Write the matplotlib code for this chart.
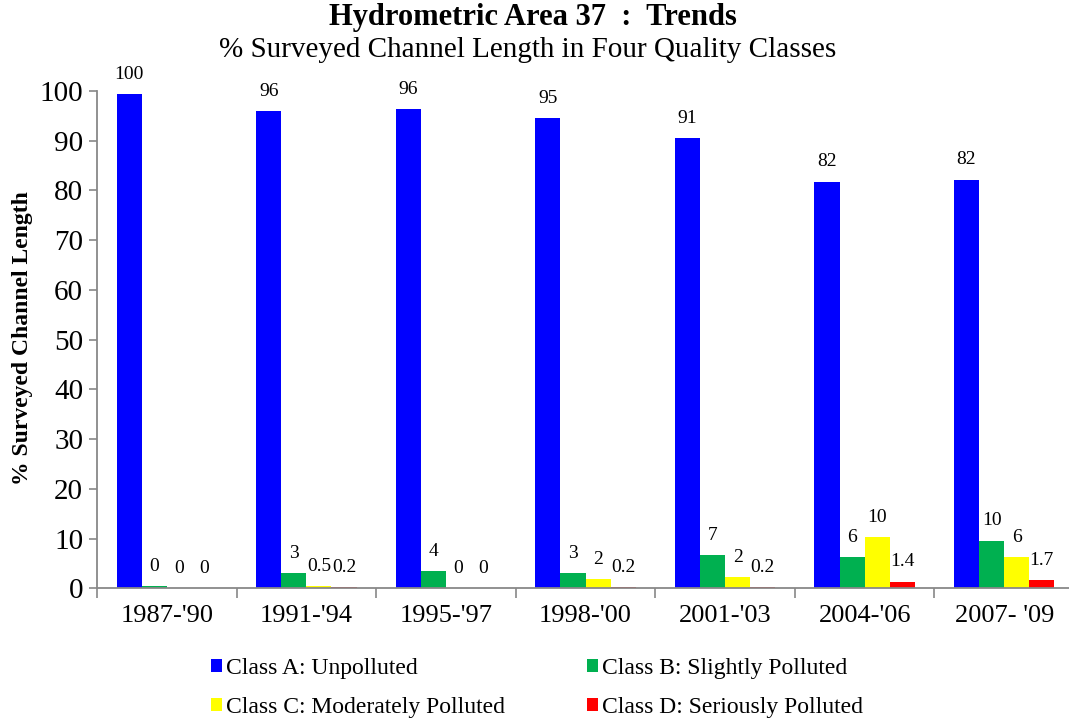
import matplotlib
matplotlib.use("Agg")
import matplotlib.pyplot as plt
import numpy as np

periods = ["1987-'90", "1991-'94", "1995-'97", "1998-'00", "2001-'03", "2004-'06", "2007- '09"]
class_names = ["Class A: Unpolluted", "Class B: Slightly Polluted",
               "Class C: Moderately Polluted", "Class D: Seriously Polluted"]
class_a = [99.4, 96.0, 96.4, 94.6, 90.6, 81.8, 82.2]
class_b = [0.4, 3.0, 3.5, 3.1, 6.7, 6.3, 9.6]
class_c = [0.0, 0.45, 0.0, 1.8, 2.3, 10.3, 6.3]
class_d = [0.0, 0.2, 0.0, 0.2, 0.2, 1.35, 1.7]
labels_a = ["100", "96", "96", "95", "91", "82", "82"]
labels_b = ["0", "3", "4", "3", "7", "6", "10"]
labels_c = ["0", "0.5", "0", "2", "2", "10", "6"]
labels_d = ["0", "0.2", "0", "0.2", "0.2", "1.4", "1.7"]
colors = ["#0000FF", "#00B050", "#FFFF00", "#FF0000"]

plt.rcParams['font.family'] = ['Liberation Serif', 'DejaVu Serif']

fig = plt.figure(figsize=(10.69, 7.24), dpi=100)
W, H = 1069, 724
left, right, top, bottom = 97, 1074, 91, 588.3
ax = fig.add_axes([left / W, 1 - bottom / H, (right - left) / W, (bottom - top) / H])

series = [class_a, class_b, class_c, class_d]
labels = [labels_a, labels_b, labels_c, labels_d]
x = np.arange(len(periods))
bw = 0.18
handles = []
for i, (vals, labs, col) in enumerate(zip(series, labels, colors)):
    pos = x + (i - 1.5) * bw
    bars = ax.bar(pos, vals, width=bw, color=col, label=class_names[i], linewidth=0)
    handles.append(bars)
    for p, v, l in zip(pos, vals, labs):
        ax.annotate(l, (p, v), xytext=(0, 8), textcoords="offset points",
                    ha="center", va="bottom", fontsize=14)

ax.set_xlim(-0.5, len(periods) - 0.5)
ax.set_ylim(0, 100)
ax.set_yticks(np.arange(0, 101, 10))
ax.tick_params(axis='y', labelsize=21, color="#888888", length=6, width=1.2, pad=4)
ax.set_xticks(x)
ax.set_xticklabels(periods, fontsize=19)
ax.set_xticks(np.arange(-0.5, len(periods), 1), minor=True)
ax.tick_params(axis='x', which='major', length=0, pad=12)
ax.tick_params(axis='x', which='minor', length=7, color="#888888", width=1.2)
for s in ["top", "right"]:
    ax.spines[s].set_visible(False)
for s in ["left", "bottom"]:
    ax.spines[s].set_color("#888888")
    ax.spines[s].set_linewidth(1.3)

ax.set_ylabel("% Surveyed Channel Length", fontsize=17, fontweight="bold")
ax.yaxis.set_label_coords((33 - left) / (right - left), (bottom - 338) / (bottom - top))

fig.text(533 / W, 1 - 17 / H, "Hydrometric Area 37  :  Trends", ha="center", va="center",
         fontsize=22, fontweight="bold")
fig.text(528 / W, 1 - 50 / H, "% Surveyed Channel Length in Four Quality Classes",
         ha="center", va="center", fontsize=21)

order = [0, 2, 1, 3]
leg = fig.legend([handles[i] for i in order], [class_names[i] for i in order],
                 ncol=2, loc="center", bbox_to_anchor=(537 / W, 1 - 688 / H),
                 frameon=False, fontsize=17, handlelength=0.47, handleheight=0.47,
                 handletextpad=0.15, columnspacing=3.5, labelspacing=0.78,
                 borderpad=0, borderaxespad=0)

fig.savefig("out.png", dpi=100)
